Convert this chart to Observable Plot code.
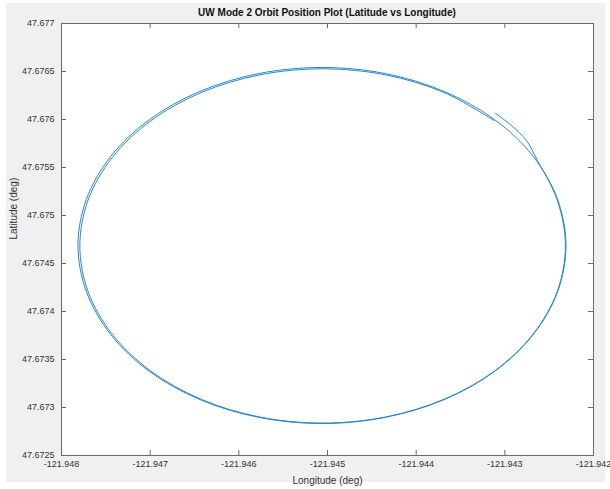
<!DOCTYPE html>
<html><head><meta charset="utf-8">
<script src="https://cdn.jsdelivr.net/npm/d3@7"></script>
<script src="https://cdn.jsdelivr.net/npm/@observablehq/plot@0.6"></script>
<style>
html,body{margin:0;padding:0;background:#fff;}
#fig{position:relative;width:610px;height:489px;overflow:hidden;}
#bg{position:absolute;left:6px;top:3px;width:599px;height:479px;background:#f0f0f0;}
#chart{position:absolute;left:0;top:0;}
#title{position:absolute;left:61px;width:532px;top:7px;text-align:center;font:bold 10px "Liberation Sans",Arial,sans-serif;color:#111;line-height:12px;}
</style></head><body>
<div id="fig"><div id="bg"></div><div id="chart"></div><div id="title">UW Mode 2 Orbit Position Plot (Latitude vs Longitude)</div></div>
<script>
// Orbit path (longitude, latitude in degrees)
const tailLon = [-121.943105, -121.942925, -121.942756, -121.942632];
const tailLat = [47.676063, 47.675937, 47.675781, 47.675573];

const loop1Lon = [-121.942404, -121.942310, -121.942404, -121.942679, -121.943116, -121.943686, -121.944350,
  -121.945062, -121.945774, -121.946438, -121.947008, -121.947445, -121.947720, -121.947814, -121.947720,
  -121.947445, -121.947008, -121.946438, -121.945774, -121.945062, -121.944350, -121.943686, -121.943116, -121.942679];
const loop1Lat = [47.675167, 47.674688, 47.674208, 47.673760, 47.673376, 47.673082, 47.672897,
  47.672833, 47.672897, 47.673082, 47.673376, 47.673760, 47.674208, 47.674688, 47.675167,
  47.675615, 47.675999, 47.676293, 47.676479, 47.676542, 47.676479, 47.676293, 47.675999, 47.675615];

const loop2Lon = [-121.942410, -121.942317, -121.942410, -121.942684, -121.943119, -121.943686, -121.944346, -121.945055,
  -121.945764, -121.946424, -121.946991, -121.947426, -121.947700, -121.947793, -121.947700, -121.947426,
  -121.946991, -121.946424, -121.945764, -121.945055, -121.944346, -121.943686, -121.943119];
const loop2Lat = [47.675161, 47.674683, 47.674206, 47.673761, 47.673378, 47.673085, 47.672901, 47.672838,
  47.672901, 47.673085, 47.673378, 47.673761, 47.674206, 47.674683, 47.675161, 47.675606,
  47.675988, 47.676281, 47.676465, 47.676528, 47.676465, 47.676281, 47.675988];

const xTicks = [-121.948, -121.947, -121.946, -121.945, -121.944, -121.943, -121.942];
const xTickLabels = ["-121.948", "-121.947", "-121.946", "-121.945", "-121.944", "-121.943", "-121.942"];
const yTicks = [47.6725, 47.673, 47.6735, 47.674, 47.6745, 47.675, 47.6755, 47.676, 47.6765, 47.677];
const yTickLabels = ["47.6725", "47.673", "47.6735", "47.674", "47.6745", "47.675", "47.6755", "47.676", "47.6765", "47.677"];

const allLon = [...tailLon, ...loop1Lon, ...loop2Lon];
const allLat = [...tailLat, ...loop1Lat, ...loop2Lat];
const path = allLon.map((lon, i) => ({lon, lat: allLat[i]}));

const axisColor = "#6a6a6a";
const textColor = "#333";

const chart = Plot.plot({
  width: 610,
  height: 489,
  marginLeft: 61,
  marginRight: 17,
  marginTop: 23,
  marginBottom: 34,
  style: {background: "transparent", fontFamily: "'Liberation Sans', Arial, sans-serif", color: textColor},
  x: {domain: [-121.948, -121.942]},
  y: {domain: [47.6725, 47.677]},
  marks: [
    Plot.frame({fill: "white", stroke: null}),
    Plot.line(path, {x: "lon", y: "lat", stroke: "#2a86c8", strokeWidth: 1, curve: "catmull-rom"}),
    Plot.frame({stroke: axisColor, strokeWidth: 1}),
    Plot.tickX(xTicks, {x: d => d, stroke: axisColor, insetTop: 427}),
    Plot.tickX(xTicks, {x: d => d, stroke: axisColor, insetBottom: 427}),
    Plot.tickY(yTicks, {y: d => d, stroke: axisColor, insetRight: 527}),
    Plot.tickY(yTicks, {y: d => d, stroke: axisColor, insetLeft: 527}),
    Plot.axisX({ticks: xTicks, tickSize: 0, tickPadding: 5, fontSize: 9, label: null,
      tickFormat: d => xTickLabels[xTicks.indexOf(d)]}),
    Plot.axisY({ticks: yTicks, tickSize: 0, tickPadding: 7, fontSize: 9, label: null,
      tickFormat: d => yTickLabels[yTicks.indexOf(d)]}),
    Plot.text(["Longitude (deg)"], {frameAnchor: "bottom", dy: 25, fontSize: 10, fill: textColor, lineAnchor: "middle"}),
    Plot.text(["Latitude (deg)"], {frameAnchor: "left", dx: -48, rotate: -90, fontSize: 10, fill: textColor, lineAnchor: "middle"})
  ]
});
document.getElementById("chart").appendChild(chart);
</script></body></html>
